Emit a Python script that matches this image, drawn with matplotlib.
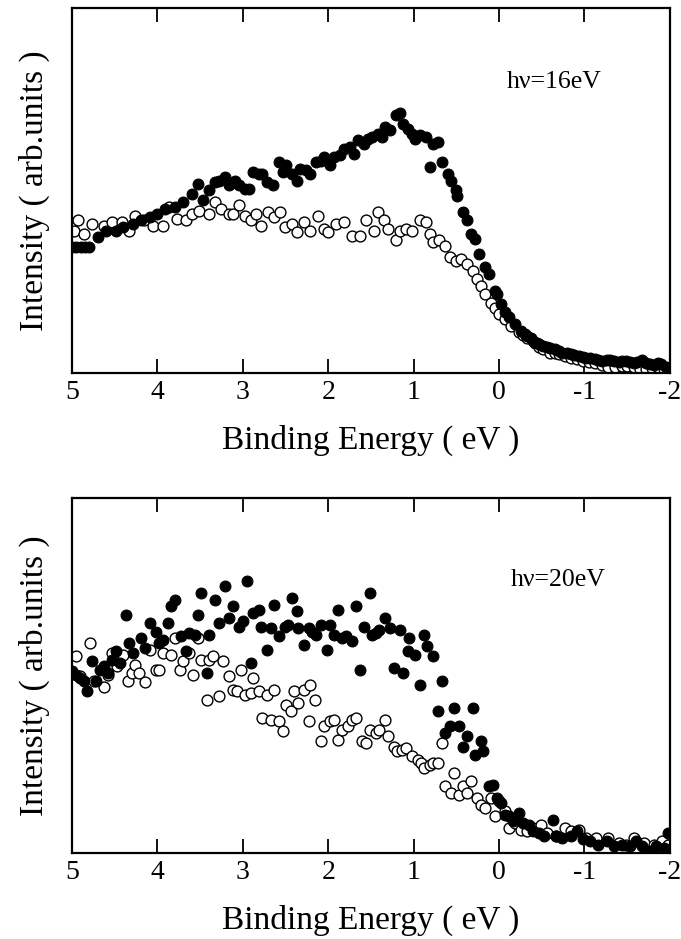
import matplotlib
matplotlib.use("Agg")
import matplotlib.pyplot as plt

plt.rcParams['font.family'] = ['Liberation Serif', 'DejaVu Serif']
plt.rcParams['axes.unicode_minus'] = False

# ---- hv = 16 eV panel ----
e16_on = [5.00, 4.95, 4.90, 4.85, 4.80, 4.70, 4.60, 4.49, 4.40, 4.28, 4.19, 4.09, 4.00,
          3.91, 3.79, 3.70, 3.60, 3.53, 3.47, 3.40, 3.33, 3.28, 3.21, 3.16, 3.09, 3.05,
          2.98, 2.93, 2.88, 2.81, 2.77, 2.72, 2.65, 2.58, 2.53, 2.49, 2.42, 2.37, 2.33,
          2.26, 2.21, 2.14, 2.09, 2.05, 1.98, 1.93, 1.86, 1.81, 1.74, 1.70, 1.65, 1.58,
          1.53, 1.49, 1.42, 1.37, 1.33, 1.28, 1.21, 1.16, 1.12, 1.07, 1.02, 0.98, 0.93,
          0.86, 0.81, 0.77, 0.72, 0.67, 0.60, 0.56, 0.51, 0.49, 0.42, 0.37, 0.33, 0.28,
          0.23, 0.16, 0.12, 0.05, 0.02, -0.02, -0.07, -0.12, -0.19, -0.26, -0.30, -0.33,
          -0.37, -0.40, -0.44, -0.47, -0.51, -0.56, -0.60, -0.65, -0.70, -0.74, -0.79,
          -0.84, -0.88, -0.93, -0.98, -1.02, -1.07, -1.12, -1.16, -1.21, -1.26, -1.30,
          -1.35, -1.40, -1.44, -1.49, -1.53, -1.58, -1.62, -1.67, -1.72, -1.77, -1.81,
          -1.86, -1.90, -1.95, -2.00]
i16_on = [34.4, 34.4, 34.4, 34.4, 34.4, 37.2, 39.0, 39.0, 40.0, 40.8, 42.0, 42.7, 43.6,
          45.0, 45.4, 46.8, 49.0, 51.8, 47.3, 50.0, 52.3, 52.7, 53.7, 51.4, 52.7, 51.4,
          50.5, 50.5, 55.0, 54.6, 54.6, 52.3, 51.4, 57.8, 55.0, 56.9, 54.6, 52.7, 56.0,
          55.5, 54.6, 57.8, 58.2, 59.2, 56.9, 59.2, 59.6, 61.4, 61.9, 60.0, 63.7, 62.8,
          64.2, 64.7, 65.6, 64.7, 67.4, 66.5, 70.6, 71.1, 68.3, 66.9, 65.6, 64.2, 65.1,
          64.7, 56.4, 62.8, 63.3, 57.8, 54.6, 52.7, 50.0, 48.6, 44.0, 41.8, 38.0, 36.7,
          32.6, 28.9, 27.1, 22.5, 21.6, 18.9, 16.6, 15.2, 13.4, 11.5, 10.8, 10.2,
          9.5, 8.8, 8.3, 7.9, 7.5, 7.0, 6.8, 6.5, 6.0, 5.6, 5.4,
          5.1, 4.9, 4.7, 4.3, 4.0, 4.0, 3.8, 3.5, 3.3, 3.6, 3.5,
          3.2, 3.1, 3.4, 3.3, 2.9, 2.8, 3.0, 3.5, 2.8, 2.4, 2.2,
          2.6, 2.5, 1.5, 1.3]

e16_off = [4.98, 4.93, 4.86, 4.77, 4.63, 4.53, 4.42, 4.33, 4.26, 4.16, 4.05, 3.93, 3.86,
           3.77, 3.67, 3.60, 3.51, 3.40, 3.33, 3.26, 3.16, 3.12, 3.05, 2.98, 2.91, 2.84,
           2.79, 2.70, 2.63, 2.56, 2.51, 2.42, 2.37, 2.28, 2.21, 2.12, 2.05, 2.00, 1.91,
           1.81, 1.72, 1.63, 1.56, 1.47, 1.42, 1.35, 1.30, 1.21, 1.16, 1.09, 1.02, 0.93,
           0.86, 0.81, 0.77, 0.70, 0.63, 0.58, 0.51, 0.44, 0.37, 0.30, 0.26, 0.21, 0.16,
           0.09, 0.05, 0.00, -0.07, -0.14, -0.23, -0.28, -0.33, -0.42, -0.47, -0.51, -0.60,
           -0.65, -0.70, -0.77, -0.84, -0.91, -0.98, -1.05, -1.12, -1.20, -1.28, -1.36,
           -1.44, -1.50, -1.58, -1.65, -1.72, -1.79, -1.86, -1.93, -1.98]
i16_off = [39.0, 41.8, 38.0, 40.8, 40.4, 41.3, 41.3, 39.0, 43.1, 41.8, 40.4, 40.4, 45.4,
           42.2, 41.8, 43.6, 44.5, 43.6, 46.8, 45.0, 43.6, 43.6, 45.9, 43.1, 41.8, 43.6,
           40.4, 44.0, 42.7, 44.0, 40.0, 40.8, 38.6, 41.3, 39.0, 43.1, 39.5, 38.6, 40.8,
           41.3, 37.6, 37.6, 41.8, 39.0, 44.0, 41.8, 39.5, 36.3, 39.0, 39.5, 39.0, 41.8,
           41.3, 38.0, 35.8, 36.3, 34.9, 31.7, 30.8, 31.2, 29.9, 28.0, 25.7, 23.9, 21.6,
           19.3, 17.9, 16.1, 14.7, 12.9, 11.1, 10.5, 9.7, 8.3, 7.2, 6.5, 5.6,
           5.4, 5.1, 4.6, 4.2, 3.8, 3.3, 3.0, 2.8, 2.2, 1.5, 1.7,
           1.9, 1.8, 1.5, 1.2, 1.0, 1.3, 1.5, 1.2, 1.0]

# ---- hv = 20 eV panel ----
e20_on = [5.00, 4.95, 4.91, 4.86, 4.83, 4.77, 4.72, 4.67, 4.63, 4.58, 4.53, 4.49, 4.44,
          4.37, 4.33, 4.28, 4.19, 4.14, 4.09, 4.02, 3.98, 3.93, 3.88, 3.84, 3.79, 3.72,
          3.67, 3.63, 3.56, 3.53, 3.49, 3.42, 3.40, 3.33, 3.28, 3.21, 3.16, 3.12, 3.05,
          3.00, 2.95, 2.91, 2.88, 2.81, 2.79, 2.72, 2.67, 2.63, 2.58, 2.51, 2.47, 2.42,
          2.37, 2.35, 2.28, 2.23, 2.19, 2.14, 2.09, 2.02, 1.98, 1.93, 1.88, 1.84, 1.79,
          1.72, 1.67, 1.63, 1.58, 1.51, 1.49, 1.44, 1.40, 1.33, 1.28, 1.23, 1.16, 1.12,
          1.07, 1.05, 0.98, 0.93, 0.88, 0.84, 0.77, 0.72, 0.67, 0.63, 0.58, 0.53, 0.47,
          0.42, 0.37, 0.30, 0.28, 0.21, 0.19, 0.12, 0.07, 0.02, -0.02, -0.07, -0.12,
          -0.16, -0.23, -0.28, -0.35, -0.40, -0.47, -0.53, -0.63, -0.67, -0.74, -0.84,
          -0.91, -0.98, -1.07, -1.16, -1.26, -1.35, -1.44, -1.53, -1.60, -1.67, -1.77,
          -1.84, -1.93, -1.98, -2.00]
i20_on = [51.2, 50.2, 49.3, 48.4, 45.5, 54.0, 48.4, 51.6, 52.6, 50.7, 54.5, 56.8, 53.5,
          67.1, 59.2, 56.3, 60.6, 57.7, 64.8, 62.4, 59.2, 60.1, 64.8, 69.5, 71.4, 61.0,
          56.8, 62.0, 61.5, 67.1, 73.2, 50.7, 61.5, 71.4, 64.8, 75.1, 66.2, 69.5, 63.8,
          65.3, 76.5, 53.5, 67.6, 68.5, 63.8, 57.3, 63.4, 70.0, 61.0, 63.8, 64.3, 71.8,
          68.1, 63.4, 58.7, 63.4, 62.4, 61.5, 64.3, 57.3, 64.3, 61.5, 68.5, 60.6, 61.0,
          59.6, 69.5, 51.6, 63.8, 73.2, 61.5, 62.0, 62.9, 66.2, 63.4, 52.1, 62.9, 50.7,
          56.8, 60.6, 55.9, 47.4, 61.5, 58.2, 55.4, 39.9, 48.4, 33.8, 35.7, 40.8, 35.7,
          30.0, 32.9, 40.8, 27.7, 31.5, 28.6, 18.8, 19.2, 15.5, 14.1, 10.8, 10.3,
          8.9, 11.3, 8.5, 8.0, 6.1, 5.6, 4.7, 9.4, 4.7, 4.2, 4.7,
          6.1, 3.8, 3.3, 2.3, 3.3, 1.9, 2.3, 1.9, 3.3, 1.9, 0.5,
          1.9, 1.4, 5.6, 0.9]

e20_off = [4.95, 4.91, 4.79, 4.74, 4.63, 4.58, 4.53, 4.47, 4.40, 4.35, 4.30, 4.26, 4.21,
           4.14, 4.09, 4.02, 3.98, 3.93, 3.84, 3.79, 3.74, 3.70, 3.63, 3.58, 3.53, 3.49,
           3.42, 3.40, 3.35, 3.28, 3.23, 3.16, 3.12, 3.07, 3.02, 2.98, 2.91, 2.88, 2.81,
           2.77, 2.72, 2.67, 2.63, 2.58, 2.53, 2.49, 2.44, 2.40, 2.35, 2.28, 2.23, 2.21,
           2.16, 2.09, 2.05, 1.98, 1.93, 1.88, 1.84, 1.77, 1.72, 1.67, 1.60, 1.56, 1.51,
           1.44, 1.40, 1.33, 1.30, 1.23, 1.19, 1.14, 1.09, 1.02, 0.95, 0.91, 0.88, 0.81,
           0.77, 0.72, 0.67, 0.63, 0.56, 0.53, 0.47, 0.42, 0.37, 0.33, 0.26, 0.21, 0.16,
           0.09, 0.05, 0.00, -0.07, -0.12, -0.19, -0.26, -0.33, -0.40, -0.49, -0.56, -0.67,
           -0.77, -0.84, -0.93, -1.02, -1.14, -1.28, -1.40, -1.49, -1.58, -1.70, -1.81,
           -1.91, -1.98]
i20_off = [55.4, 49.8, 59.2, 48.4, 46.9, 50.2, 56.3, 52.6, 55.9, 48.4, 50.7, 53.0, 50.7,
           48.1, 57.3, 51.6, 51.6, 56.3, 55.9, 60.6, 51.6, 54.0, 56.3, 50.2, 60.6, 54.5,
           43.2, 54.5, 55.4, 44.1, 54.0, 49.8, 46.0, 45.5, 51.6, 44.6, 45.1, 49.3, 45.5,
           38.0, 44.6, 37.6, 46.0, 37.1, 34.3, 41.8, 39.9, 45.5, 42.3, 46.0, 37.1, 47.4,
           43.2, 31.5, 35.7, 37.1, 37.6, 31.9, 34.7, 35.7, 37.6, 38.0, 31.5, 31.0, 34.7,
           33.8, 34.7, 37.6, 32.9, 30.0, 28.6, 29.1, 29.6, 27.2, 26.3, 25.4, 23.9, 24.9,
           25.4, 25.4, 31.0, 18.8, 16.9, 22.5, 16.4, 18.8, 16.9, 20.2, 15.5, 13.6, 12.7,
           15.5, 10.3, 14.6, 11.7, 7.0, 8.5, 6.6, 6.1, 7.0, 8.0, 5.6, 4.7,
           7.0, 6.1, 6.6, 4.2, 4.2, 4.2, 2.8, 2.3, 4.2, 2.8, 2.3,
           3.3, 2.3]

xticks = [5, 4, 3, 2, 1, 0, -1, -2]

fig = plt.figure(figsize=(6.81, 9.39), dpi=100)
ax1 = fig.add_axes([0.1057, 0.6028, 0.878, 0.3887])
ax2 = fig.add_axes([0.1057, 0.0916, 0.878, 0.3780])

panels = [(ax1, e16_on, i16_on, e16_off, i16_off, "h\u03bd=16eV", 0.727, 0.797),
          (ax2, e20_on, i20_on, e20_off, i20_off, "h\u03bd=20eV", 0.734, 0.769)]

for ax, eon, ion, eoff, ioff, label, tx, ty in panels:
    ax.plot(eoff, ioff, 'o', ms=7.8, mfc='white', mec='black', mew=1.0, ls='none')
    ax.plot(eon, ion, 'o', ms=7.8, mfc='black', mec='black', mew=0.8, ls='none')
    ax.set_xlim(5, -2)
    ax.set_ylim(0, 100)
    ax.set_xticks(xticks)
    ax.set_xticklabels([str(t) for t in xticks])
    ax.set_yticks([])
    ax.tick_params(axis='x', direction='in', top=True, bottom=True, length=10,
                   width=1.3, labelsize=20, pad=5)
    for sp in ax.spines.values():
        sp.set_linewidth(1.6)
    ax.set_xlabel("Binding Energy ( eV )", fontsize=24, labelpad=14)
    ax.set_ylabel("Intensity ( arb.units )", fontsize=24, labelpad=16)
    ax.text(tx, ty, label, transform=ax.transAxes, fontsize=18.5, ha='left', va='center')

fig.savefig("out.png", dpi=100)
